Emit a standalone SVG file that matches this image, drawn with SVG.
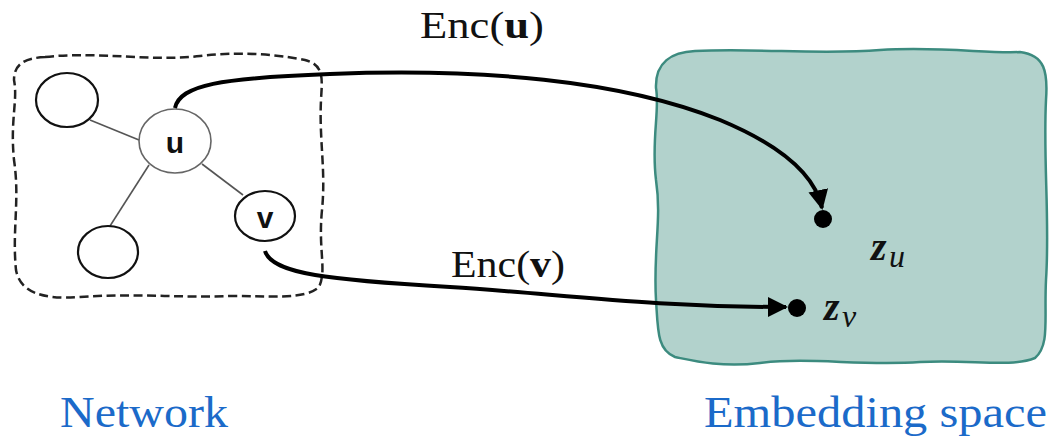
<svg xmlns="http://www.w3.org/2000/svg" width="1051" height="437" viewBox="0 0 1051 437">
<defs>
<style>
.node{fill:#fff;stroke:#111;stroke-width:2.2}
.nodeg{fill:#fff;stroke:#666;stroke-width:1.6}
.edge{stroke:#555;stroke-width:1.6;fill:none}
.conn{stroke:#000;stroke-width:4;fill:none}
.lbl{font-family:"Liberation Sans",Arial,sans-serif;font-weight:bold;font-size:30px;fill:#111;text-anchor:middle}
.enc{font-family:"Liberation Serif","Times New Roman",serif;font-size:38px;fill:#111}
.title{font-family:"Liberation Serif","Times New Roman",serif;font-size:44px;fill:#1b6ac9}
.math{font-family:"Liberation Serif","Times New Roman",serif;fill:#111}
</style>
<marker id="ah" viewBox="0 0 10 10" refX="9" refY="5" markerWidth="5" markerHeight="5" markerUnits="strokeWidth" orient="auto">
<path d="M0,0 L10,5 L0,10 z" fill="#000"/>
</marker>
</defs>
<rect width="1051" height="437" fill="#fff"/>

<g id="network-boundary">
<path d="M45,57 C100,51 150,62 200,56 C250,50 290,57 305,60 C325,65 322,80 321,100 C319,140 326,170 322,210 C318,250 327,270 319,287 C305,300 270,296 230,296 C180,298 130,293 80,297 C42,300 20,292 16,270 C12,230 20,200 14,160 C10,120 18,100 14,80 C14,62 28,58 45,57 Z" fill="none" stroke="#222" stroke-width="2.5" stroke-dasharray="9,4.5"/>
</g>

<g id="embedding-space">
<path d="M695,51 C760,48 820,55 880,50 C940,46 990,54 1020,52 C1045,55 1048,72 1046,100 C1043,160 1050,220 1046,280 C1044,320 1050,345 1035,358 C1010,368 970,359 920,362 C860,366 810,357 760,363 C720,368 690,360 675,357 C657,350 658,330 656,300 C653,250 662,220 656,180 C651,140 660,110 656,88 C655,62 672,52 695,51 Z" fill="#b2d2cc" stroke="#3c8b7f" stroke-width="2.5"/>
</g>

<g id="graph-edges">
<line class="edge" x1="90" y1="120" x2="139" y2="140"/>
<line class="edge" x1="149" y1="165" x2="110" y2="226"/>
<line class="edge" x1="202" y1="164" x2="243" y2="195"/>
</g>

<g id="node-a"><ellipse class="node" cx="67" cy="100" rx="31" ry="27"/></g>
<g id="node-b"><ellipse class="node" cx="108" cy="252" rx="30" ry="26"/></g>
<g id="node-u"><ellipse class="nodeg" cx="175" cy="141" rx="36" ry="32"/><text class="lbl" x="175" y="153">u</text></g>
<g id="node-v"><ellipse class="node" cx="265" cy="216" rx="30" ry="25"/><text class="lbl" x="265" y="228">v</text></g>

<g id="point-zu"><circle cx="823" cy="219" r="9" fill="#000"/>
<text class="math" x="871" y="260" font-size="40" font-weight="bold" font-style="italic">z</text><text class="math" x="889" y="267" font-size="32" font-style="italic">u</text></g>
<g id="point-zv"><circle cx="797" cy="308" r="9" fill="#000"/>
<text class="math" x="824" y="320" font-size="40" font-weight="bold" font-style="italic">z</text><text class="math" x="842" y="327" font-size="32" font-style="italic">v</text></g>

<g id="connectors">
<path class="conn" marker-end="url(#ah)" d="M175,108 C180,85 220,78 330,74 C480,68 620,80 720,120 C780,145 815,175 822,208"/>
<path class="conn" marker-end="url(#ah)" d="M265,251 C272,274 330,280 450,287 C560,294 650,307 786,307"/>
</g>

<g id="labels">
<text class="enc" x="420" y="38" textLength="124" lengthAdjust="spacingAndGlyphs">Enc(<tspan font-weight="bold">u</tspan>)</text>
<text class="enc" x="451" y="277" textLength="114" lengthAdjust="spacingAndGlyphs">Enc(<tspan font-weight="bold">v</tspan>)</text>
<text class="title" x="60" y="427" textLength="168" lengthAdjust="spacingAndGlyphs">Network</text>
<text class="title" x="704" y="427" textLength="343" lengthAdjust="spacingAndGlyphs">Embedding space</text>
</g>
</svg>
